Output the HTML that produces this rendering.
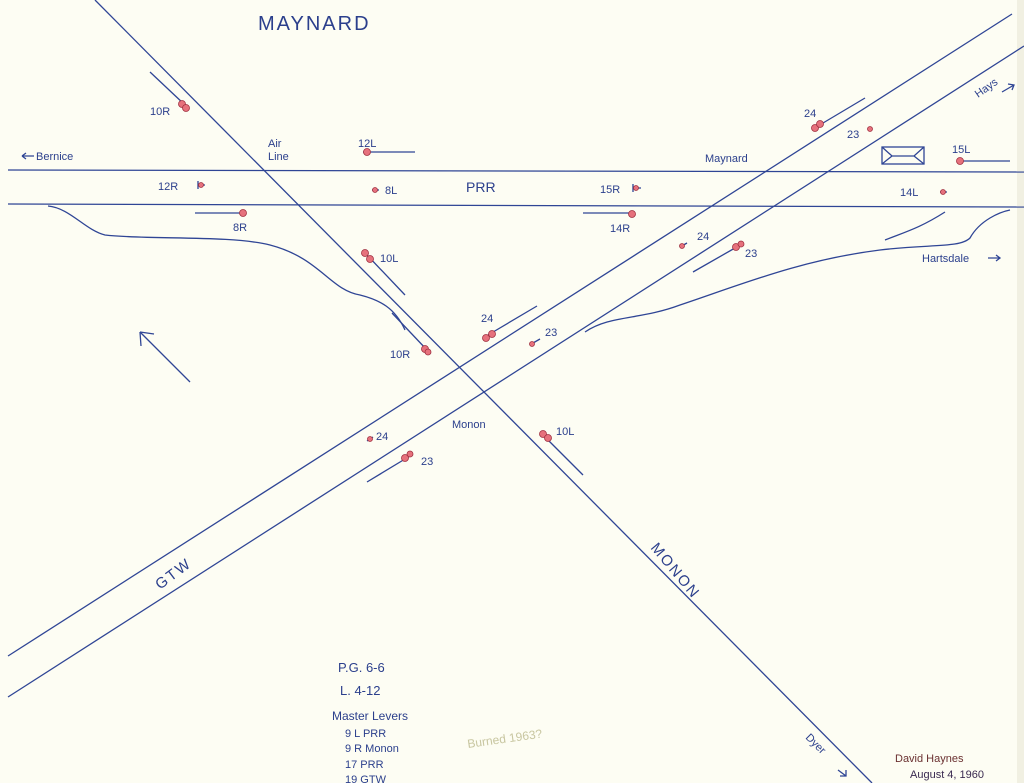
<!DOCTYPE html>
<html><head><meta charset="utf-8"><style>
html,body{margin:0;padding:0;background:#fdfdf3}
svg{display:block}
text{font-family:"Liberation Sans",sans-serif;fill:#2b3f8c;font-size:11px}
</style></head><body>
<svg width="1024" height="783" viewBox="0 0 1024 783" xmlns="http://www.w3.org/2000/svg">
<rect width="1024" height="783" fill="#fdfdf3"/>
<rect x="1017" y="0" width="7" height="783" fill="#f1f0e2"/>
<g stroke="#2f4595" stroke-width="1.3" fill="none">
<line x1="8" y1="170" x2="1024" y2="172"/>
<line x1="8" y1="204" x2="1024" y2="207"/>
<line x1="95" y1="0" x2="872" y2="783"/>
<line x1="8" y1="656" x2="1012" y2="14"/>
<line x1="8" y1="697" x2="1024" y2="46"/>
<path d="M48,206 C70,208 85,230 105,235 C150,240 230,235 270,245 C320,258 330,290 360,295 C380,300 395,308 405,330"/>
<path d="M585,332 C610,315 640,320 680,305 C740,285 800,260 880,250 C930,244 960,248 970,238 C980,220 1000,212 1010,210"/>
<path d="M885,240 C905,232 920,228 945,212"/>
<line x1="150" y1="72" x2="185" y2="105"/>
<line x1="363" y1="152" x2="415" y2="152"/>
<line x1="195" y1="213" x2="243" y2="213"/>
<line x1="583" y1="213" x2="632" y2="213"/>
<line x1="367" y1="255" x2="405" y2="295"/>
<line x1="392" y1="313" x2="427" y2="350"/>
<line x1="488" y1="335" x2="537" y2="306"/>
<line x1="693" y1="272" x2="742" y2="244"/>
<line x1="818" y1="126" x2="865" y2="98"/>
<line x1="960" y1="161" x2="1010" y2="161"/>
<line x1="545" y1="437" x2="583" y2="475"/>
<line x1="367" y1="482" x2="410" y2="456"/>
<line x1="140" y1="332" x2="190" y2="382"/>
<path d="M140,332 L141,346 M140,332 L154,334"/>
<rect x="882" y="147" width="42" height="17"/>
<path d="M882,147 L892,156 L914,156 L924,147 M882,164 L892,156 M914,156 L924,164"/>
<path d="M198,185 L205,185 M198,181 L198,189 M372,190 L379,190 M633,188 L641,188 M633,184 L633,192 M940,192 L947,192 M533,343 L540,339 M687,243 L680,247 M367,441 L373,437"/>
<path d="M22,156 L34,156 M22,156 L26,153 M22,156 L26,159 M988,258 L1000,258 M996,255 L1000,258 L996,261 M1002,92 L1014,85 M1008,84 L1014,85 L1012,90 M838,770 L846,776 M840,776 L846,776 L846,770"/>
</g>
<g fill="#e6717c" stroke="#a03040" stroke-width="0.8">
<circle cx="182" cy="104" r="3.5"/><circle cx="186" cy="108" r="3.5"/>
<circle cx="367" cy="152" r="3.5"/>
<circle cx="243" cy="213" r="3.5"/>
<circle cx="632" cy="214" r="3.5"/>
<circle cx="365" cy="253" r="3.5"/><circle cx="370" cy="259" r="3.5"/>
<circle cx="425" cy="349" r="3.5"/><circle cx="428" cy="352" r="3"/>
<circle cx="486" cy="338" r="3.5"/><circle cx="492" cy="334" r="3.5"/>
<circle cx="736" cy="247" r="3.5"/><circle cx="741" cy="244" r="3"/>
<circle cx="815" cy="128" r="3.5"/><circle cx="820" cy="124" r="3.5"/>
<circle cx="960" cy="161" r="3.5"/>
<circle cx="543" cy="434" r="3.5"/><circle cx="548" cy="438" r="3.5"/>
<circle cx="405" cy="458" r="3.5"/><circle cx="410" cy="454" r="3"/>
<circle cx="201" cy="185" r="2.5"/><circle cx="375" cy="190" r="2.5"/><circle cx="636" cy="188" r="2.5"/><circle cx="943" cy="192" r="2.5"/><circle cx="532" cy="344" r="2.5"/><circle cx="682" cy="246" r="2.5"/><circle cx="870" cy="129" r="2.5"/><circle cx="370" cy="439" r="2.5"/>
</g>
<text x="258" y="30" style="font-size:20px;letter-spacing:2px">MAYNARD</text>
<text x="36" y="160">Bernice</text>
<text x="150" y="115">10R</text>
<text x="268" y="147">Air</text><text x="268" y="160">Line</text>
<text x="358" y="147">12L</text>
<text x="158" y="190">12R</text>
<text x="385" y="194">8L</text>
<text x="466" y="192" style="font-size:14px">PRR</text>
<text x="600" y="193">15R</text>
<text x="233" y="231">8R</text>
<text x="610" y="232">14R</text>
<text x="380" y="262">10L</text>
<text x="390" y="358">10R</text>
<text x="481" y="322">24</text>
<text x="545" y="336">23</text>
<text x="697" y="240">24</text>
<text x="745" y="257">23</text>
<text x="705" y="162">Maynard</text>
<text x="804" y="117">24</text>
<text x="847" y="138">23</text>
<text x="952" y="153">15L</text>
<text x="900" y="196">14L</text>
<text x="922" y="262">Hartsdale</text>
<text x="978" y="98" transform="rotate(-35 978 98)">Hays</text>
<text x="452" y="428">Monon</text>
<text x="556" y="435">10L</text>
<text x="376" y="440">24</text>
<text x="421" y="465">23</text>
<text x="160" y="590" transform="rotate(-37 160 590)" style="font-size:15px;letter-spacing:2px">GTW</text>
<text x="650" y="548" transform="rotate(50 650 548)" style="font-size:15px;letter-spacing:2px">MONON</text>
<text x="805" y="738" transform="rotate(45 805 738)">Dyer</text>
<text x="338" y="672" style="font-size:13px">P.G.  6-6</text>
<text x="340" y="695" style="font-size:13px">L.  4-12</text>
<text x="332" y="720" style="font-size:12px">Master Levers</text>
<text x="345" y="737">9 L   PRR</text>
<text x="345" y="752">9 R   Monon</text>
<text x="345" y="768">17    PRR</text>
<text x="345" y="783">19    GTW</text>
<text x="468" y="748" transform="rotate(-8 468 748)" style="fill:#c8c6a0;font-size:12px">Burned 1963?</text>
<text x="895" y="762" style="fill:#6a3030">David Haynes</text>
<text x="910" y="778" style="fill:#3a2a50">August 4, 1960</text>
</svg>
</body></html>
